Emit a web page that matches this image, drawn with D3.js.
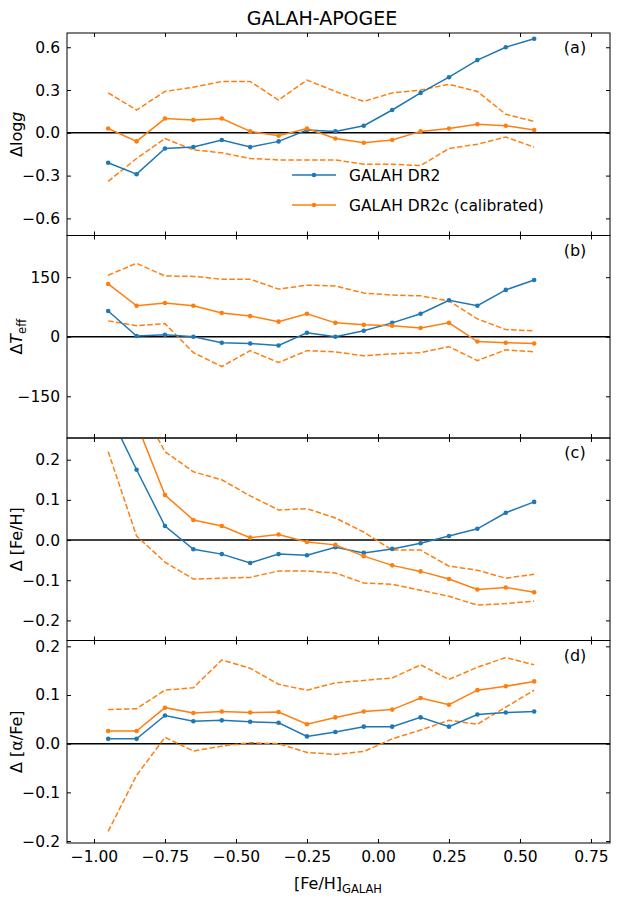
<!DOCTYPE html>
<html><head><meta charset="utf-8">
<script src="https://cdn.jsdelivr.net/npm/d3@7"></script>
<style>body{margin:0;background:#fff}text{font-family:"DejaVu Sans",sans-serif}</style>
</head><body>
<script>
const xs = [-0.95,-0.85,-0.75,-0.65,-0.55,-0.45,-0.35,-0.25,-0.15,-0.05,0.05,0.15,0.25,0.35,0.45,0.55];
const xTicks = [-1.0,-0.75,-0.5,-0.25,0,0.25,0.5,0.75];

const loggBlue = [-0.21,-0.29,-0.11,-0.10,-0.05,-0.10,-0.06,0.02,0.01,0.05,0.16,0.28,0.39,0.51,0.60,0.66];
const loggOrange = [0.03,-0.06,0.10,0.09,0.10,0.01,-0.02,0.03,-0.04,-0.07,-0.05,0.01,0.03,0.06,0.05,0.02];
const loggUp = [0.28,0.16,0.29,0.32,0.36,0.36,0.23,0.37,0.29,0.22,0.28,0.30,0.34,0.29,0.13,0.08];
const loggLo = [-0.34,-0.18,-0.04,-0.12,-0.14,-0.18,-0.19,-0.19,-0.19,-0.22,-0.22,-0.23,-0.11,-0.08,-0.03,-0.10];

const teffBlue = [65,2,5,0,-15,-17,-22,10,0,15,35,58,92,78,118,143];
const teffOrange = [133,78,85,78,60,52,38,58,35,30,28,22,35,-12,-15,-17];
const teffUp = [155,185,153,152,145,145,120,130,128,110,105,103,90,45,18,15];
const teffLo = [40,28,33,-40,-75,-35,-65,-35,-38,-48,-43,-40,-25,-60,-33,-38];

const fehBlue = [0.32,0.175,0.035,-0.023,-0.035,-0.057,-0.035,-0.038,-0.018,-0.032,-0.022,-0.008,0.01,0.028,0.068,0.095];
const fehOrange = [0.4,0.29,0.112,0.05,0.035,0.006,0.014,-0.005,-0.012,-0.04,-0.063,-0.078,-0.097,-0.123,-0.118,-0.13];
const fehUp = [0.5,0.35,0.22,0.17,0.15,0.11,0.075,0.078,0.055,0.02,-0.025,-0.025,-0.065,-0.075,-0.095,-0.085];
const fehLo = [0.22,0.01,-0.055,-0.097,-0.095,-0.093,-0.077,-0.077,-0.082,-0.107,-0.11,-0.125,-0.14,-0.162,-0.158,-0.152];

const alphaBlue = [0.01,0.01,0.058,0.046,0.048,0.045,0.043,0.015,0.024,0.035,0.035,0.054,0.035,0.06,0.064,0.066];
const alphaOrange = [0.026,0.026,0.074,0.063,0.066,0.064,0.065,0.04,0.054,0.066,0.07,0.094,0.08,0.11,0.118,0.128];
const alphaUp = [0.07,0.072,0.11,0.115,0.172,0.155,0.122,0.11,0.125,0.13,0.135,0.162,0.132,0.157,0.177,0.162];
const alphaLo = [-0.18,-0.065,0.013,-0.015,-0.005,0.002,0.0,-0.018,-0.022,-0.016,0.01,0.028,0.048,0.04,0.075,0.11];

const panels = [
  {tag:'(a)', dom:[-0.72,0.70], ticks:[-0.6,-0.3,0,0.3,0.6], fmt:d3.format('.1f'), blue:loggBlue, orange:loggOrange, up:loggUp, lo:loggLo, label:'logg'},
  {tag:'(b)', dom:[-255,255], ticks:[-150,0,150], fmt:d3.format('d'), blue:teffBlue, orange:teffOrange, up:teffUp, lo:teffLo, label:'teff'},
  {tag:'(c)', dom:[-0.25,0.254], ticks:[-0.2,-0.1,0,0.1,0.2], fmt:d3.format('.1f'), blue:fehBlue, orange:fehOrange, up:fehUp, lo:fehLo, label:'Δ [Fe/H]'},
  {tag:'(d)', dom:[-0.204,0.212], ticks:[-0.2,-0.1,0,0.1,0.2], fmt:d3.format('.1f'), blue:alphaBlue, orange:alphaOrange, up:alphaUp, lo:alphaLo, label:'Δ [α/Fe]'}
];

const W = 641, H = 899, mLeft = 67, mRight = 610, mTop = 33, pH = 202.5;
const blue = '#1f77b4', orange = '#ff7f0e';
const svg = d3.select('body').append('svg').attr('width', W).attr('height', H);
const x = d3.scaleLinear().domain([-1.095, 0.817]).range([mLeft, mRight]);
const minus = s => s.replace('-', '−');

svg.append('text').attr('x', 322).attr('y', 25).attr('text-anchor', 'middle').attr('font-size', 19).text('GALAH-APOGEE');

panels.forEach((p, i) => {
  const y0 = mTop + i * pH, y1 = y0 + pH;
  const y = d3.scaleLinear().domain(p.dom).range([y1, y0]);
  const g = svg.append('g');
  const clip = 'clip' + i;
  g.append('clipPath').attr('id', clip).append('rect').attr('x', mLeft).attr('y', y0).attr('width', mRight - mLeft).attr('height', pH);
  const line = d3.line().x((d, j) => x(xs[j])).y(d => y(d));
  const plot = g.append('g').attr('clip-path', `url(#${clip})`);
  plot.append('line').attr('x1', mLeft).attr('x2', mRight).attr('y1', y(0)).attr('y2', y(0)).attr('stroke', '#000').attr('stroke-width', 1.5);
  [p.up, p.lo].forEach(s => plot.append('path').attr('d', line(s)).attr('fill', 'none').attr('stroke', orange).attr('stroke-width', 1.5).attr('stroke-dasharray', '5.5,2.4'));
  [[p.blue, blue], [p.orange, orange]].forEach(([s, c]) => {
    plot.append('path').attr('d', line(s)).attr('fill', 'none').attr('stroke', c).attr('stroke-width', 1.5);
    plot.selectAll(null).data(s).enter().append('circle').attr('cx', (d, j) => x(xs[j])).attr('cy', d => y(d)).attr('r', 2.3).attr('fill', c);
  });
  const ya = d3.axisLeft(y).tickValues(p.ticks).tickSize(-4).tickPadding(7).tickFormat(d => minus(p.fmt(d)));
  const ay = g.append('g').attr('transform', `translate(${mLeft},0)`).call(ya);
  ay.select('.domain').remove();
  ay.selectAll('text').attr('font-size', 15.5);
  const yr = d3.axisRight(y).tickValues(p.ticks).tickSize(-4).tickFormat('');
  g.append('g').attr('transform', `translate(${mRight},0)`).call(yr).select('.domain').remove();
  const xa = d3.axisBottom(x).tickValues(xTicks).tickSize(-4).tickPadding(8).tickFormat(d => minus(d3.format('.2f')(d)));
  const ax = g.append('g').attr('transform', `translate(0,${y1})`).call(xa);
  ax.select('.domain').remove();
  if (i < 3) ax.selectAll('text').remove(); else ax.selectAll('text').attr('font-size', 15.5);
  g.append('g').attr('transform', `translate(0,${y0})`).call(d3.axisTop(x).tickValues(xTicks).tickSize(-4).tickFormat('')).select('.domain').remove();
  g.append('rect').attr('x', mLeft).attr('y', y0).attr('width', mRight - mLeft).attr('height', pH).attr('fill', 'none').attr('stroke', '#000').attr('stroke-width', 1);
  g.append('text').attr('x', 575).attr('y', y0 + 20).attr('text-anchor', 'middle').attr('font-size', 16).text(p.tag);
  const lab = g.append('text').attr('transform', `translate(22,${(y0 + y1) / 2}) rotate(-90)`).attr('text-anchor', 'middle').attr('font-size', 16);
  if (p.label === 'logg') {
    lab.append('tspan').text('Δlog');
    lab.append('tspan').attr('font-style', 'italic').text('g');
  } else if (p.label === 'teff') {
    lab.append('tspan').text('Δ');
    lab.append('tspan').attr('font-style', 'italic').text('T');
    lab.append('tspan').attr('font-size', 11.5).attr('dy', 4).text('eff');
  } else lab.text(p.label);

  if (i === 0) {
    const items = [['GALAH DR2', blue], ['GALAH DR2c (calibrated)', orange]];
    items.forEach(([t, c], k) => {
      const ly = y0 + 142 + k * 30;
      g.append('line').attr('x1', 292).attr('x2', 336).attr('y1', ly).attr('y2', ly).attr('stroke', c).attr('stroke-width', 1.5);
      g.append('circle').attr('cx', 314).attr('cy', ly).attr('r', 2.3).attr('fill', c);
      g.append('text').attr('x', 349).attr('y', ly + 6).attr('font-size', 15.5).text(t);
    });
  }
});

const xl = svg.append('text').attr('x', 338).attr('y', 889).attr('text-anchor', 'middle').attr('font-size', 16);
xl.append('tspan').text('[Fe/H]');
xl.append('tspan').attr('font-size', 11.5).attr('dy', 4).text('GALAH');
</script>
</body></html>
